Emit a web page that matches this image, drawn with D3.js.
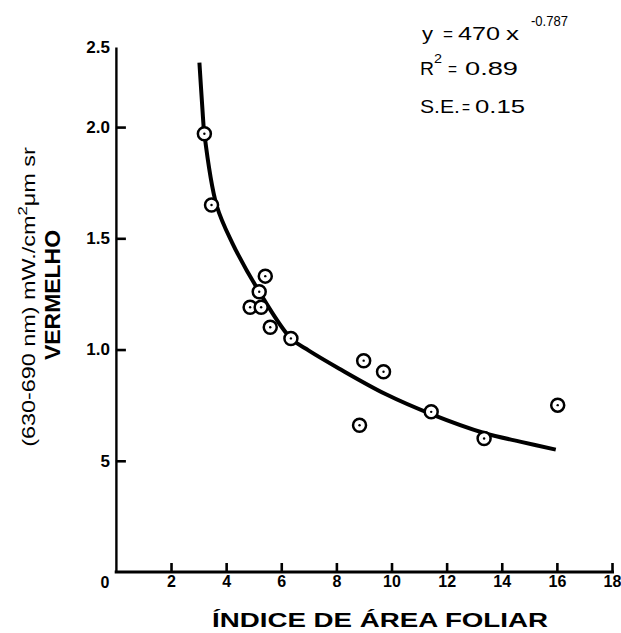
<!DOCTYPE html>
<html><head><meta charset="utf-8">
<script src="https://cdn.jsdelivr.net/npm/d3@7"></script>
<style>body{margin:0;background:#fff}svg{display:block}</style></head>
<body>
<svg id="c" width="621" height="633"></svg>
<script>
// observed points (leaf area index, red radiance)
const pointsX = [3.21, 3.47, 5.42, 5.20, 4.87, 5.27, 5.60, 6.35, 8.99, 9.71, 8.84, 11.44, 13.36, 16.03];
const pointsY = [1.97, 1.65, 1.33, 1.26, 1.19, 1.19, 1.10, 1.05, 0.95, 0.90, 0.66, 0.72, 0.60, 0.75];
// fitted curve as drawn
const curveX = [3.03, 3.14, 3.21, 3.65, 4.22, 5.20, 6.35, 7.00, 8.09, 9.78, 11.44, 13.36, 14.70, 15.96];
const curveY = [2.29, 2.08, 1.97, 1.65, 1.48, 1.26, 1.05, 0.995, 0.915, 0.80, 0.71, 0.625, 0.585, 0.55];
// ticks
const xTicks = [2, 4, 6, 8, 10, 12, 14, 16, 18];
const xTickLabels = ["2", "4", "6", "8", "10", "12", "14", "16", "18"];
const yTicks = [0.5, 1.0, 1.5, 2.0];
const yTickLabels = ["5", "1.0", "1.5", "2.0"];
const yTopLabel = "2.5";
const originLabel = "0";

const svg = d3.select("#c");
const x = d3.scaleLinear().domain([0, 18]).range([115.9, 612]);
const y = d3.scaleLinear().domain([0, 2.36]).range([572, 47]);

const font = "'Liberation Sans', Arial, Helvetica, sans-serif";

// Y axis
const yAxis = svg.append("g").attr("transform", `translate(${x(0)},0)`)
  .call(d3.axisLeft(y).tickValues(yTicks).tickFormat((d, i) => yTickLabels[i]).tickSizeInner(-10).tickSizeOuter(0).tickPadding(6));
yAxis.select(".domain").attr("stroke", "#000").attr("stroke-width", 2.4);
yAxis.selectAll(".tick line").attr("stroke", "#000").attr("stroke-width", 2.6);
yAxis.selectAll(".tick text").attr("font-family", font).attr("font-size", 17).attr("font-weight", "bold").attr("fill", "#000");
svg.append("text").attr("x", x(0) - 6).attr("y", y(2.36)).attr("dy", "0.35em")
  .attr("text-anchor", "end").attr("font-family", font).attr("font-size", 17).attr("font-weight", "bold").text(yTopLabel);

// X axis
const xAxis = svg.append("g").attr("transform", `translate(0,${y(0)})`)
  .call(d3.axisBottom(x).tickValues(xTicks).tickFormat((d, i) => xTickLabels[i]).tickSizeInner(-9).tickSizeOuter(0).tickPadding(4));
xAxis.select(".domain").attr("stroke", "#000").attr("stroke-width", 3).attr("d", `M${x(0) - 1.2},0H${x(18) + 2}`);
xAxis.selectAll(".tick line").attr("stroke", "#000").attr("stroke-width", 2.6);
xAxis.selectAll(".tick text").attr("font-family", font).attr("font-size", 16).attr("font-weight", "bold").attr("fill", "#000");
svg.append("text").attr("x", x(0) - 11).attr("y", y(0) + 15.5).attr("text-anchor", "middle")
  .attr("font-family", font).attr("font-size", 16).attr("font-weight", "bold").text(originLabel);

// curve
const line = d3.line().x(d => x(d[0])).y(d => y(d[1])).curve(d3.curveCatmullRom.alpha(0.5));
svg.append("path").datum(curveX.map((v, i) => [v, curveY[i]]))
  .attr("d", line).attr("fill", "none").attr("stroke", "#000").attr("stroke-width", 4);

// points
const pts = svg.append("g").selectAll("g").data(pointsX.map((v, i) => [v, pointsY[i]])).join("g")
  .attr("transform", d => `translate(${x(d[0])},${y(d[1])})`);
pts.append("circle").attr("r", 6.5).attr("fill", "#fff").attr("stroke", "#000").attr("stroke-width", 2.5);
pts.append("circle").attr("r", 1.2).attr("fill", "#000");

// equation block: pieces placed with fixed widths
function piece(txt, px, py, len, size) {
  svg.append("text").attr("x", px).attr("y", py).attr("font-family", font).attr("font-size", size)
    .attr("textLength", len).attr("lengthAdjust", "spacingAndGlyphs").attr("fill", "#000").text(txt);
}
piece("y", 422, 40, 11, 19);
piece("=", 443, 40, 10, 19);
piece("470", 458, 40, 42, 19);
piece("x", 506, 40, 13, 19);
piece("-0.787", 531, 26, 37, 15);
piece("R", 420, 75, 14, 19);
piece("2", 434, 63, 8, 13);
piece("=", 448, 75, 9, 19);
piece("0.89", 465, 75, 53, 19);
piece("S.E.", 420, 113, 40, 19);
piece("=", 462, 113, 8, 19);
piece("0.15", 475, 113, 50, 19);

// y title
const yt = svg.append("text").attr("transform", "translate(35,297) rotate(-90) scale(1.3,1)").attr("text-anchor", "middle")
  .attr("font-family", font).attr("font-size", 18);
yt.append("tspan").text("(630-690 nm) mW./cm");
yt.append("tspan").attr("dy", -8).attr("font-size", 13).text("2");
yt.append("tspan").attr("dy", 8).text("μm sr");
svg.append("text").attr("transform", "translate(60,295) rotate(-90)").attr("text-anchor", "middle")
  .attr("font-family", font).attr("font-size", 22).attr("font-weight", "bold")
  .attr("textLength", 130).attr("lengthAdjust", "spacingAndGlyphs").text("VERMELHO");

// x title
svg.append("text").attr("x", 380).attr("y", 627).attr("text-anchor", "middle")
  .attr("font-family", font).attr("font-size", 21).attr("font-weight", "bold")
  .attr("textLength", 336).attr("lengthAdjust", "spacingAndGlyphs")
  .text("ÍNDICE DE ÁREA FOLIAR");
</script>
</body></html>
